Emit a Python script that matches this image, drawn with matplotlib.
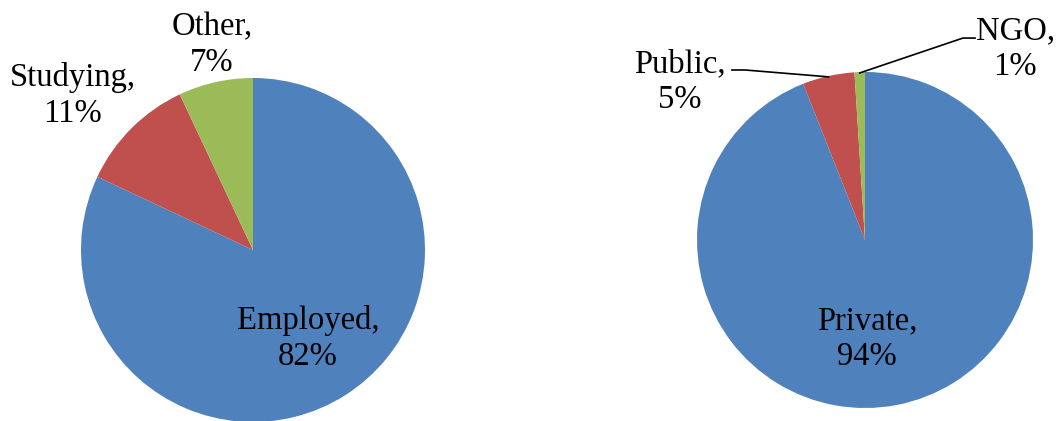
import numpy as np
import matplotlib.pyplot as plt

plt.rcParams['font.family'] = ['Liberation Serif', 'DejaVu Serif']

status = ['Employed', 'Studying', 'Other']
status_pct = [82, 11, 7]
sector = ['Private', 'Public', 'NGO']
sector_pct = [94, 5, 1]

colors = ['#4F81BD', '#C0504D', '#9BBB59']

W, H = 1057, 421
fig = plt.figure(figsize=(W / 100, H / 100), dpi=100)


def make_ax(cx, cy, r):
    # pixel centre / radius -> figure fraction
    return fig.add_axes([(cx - r) / W, (H - cy - r) / H, 2 * r / W, 2 * r / H])


def finish(ax):
    ax.set_xlim(-1, 1)
    ax.set_ylim(-1, 1)
    ax.axis('off')


def mid_point(w, r=1.0):
    a = np.deg2rad((w.theta1 + w.theta2) / 2)
    return r * np.cos(a), r * np.sin(a)


fs = 23.5
ls = 1.22

# left pie
ax1 = make_ax(253, 250, 172)
wedges1, _ = ax1.pie(status_pct, colors=colors, startangle=90, counterclock=False,
                     radius=1, wedgeprops=dict(linewidth=0))
finish(ax1)
lab_pos1 = [(0.32, -0.516), (-1.05, 0.90), (-0.24, 1.19)]
for name, v, (x, y) in zip(status, status_pct, lab_pos1):
    ax1.text(x, y, f'{name},\n{v}%', ha='center', va='center', fontsize=fs,
             linespacing=ls, clip_on=False)

# right pie
ax2 = make_ax(865, 240, 168)
wedges2, _ = ax2.pie(sector_pct, colors=colors, startangle=90, counterclock=False,
                     radius=1, wedgeprops=dict(linewidth=0))
finish(ax2)
lab_pos2 = [(0.012, -0.587), (-1.10, 0.942), (0.893, 1.136)]
for name, v, (x, y) in zip(sector, sector_pct, lab_pos2):
    ax2.text(x, y, f'{name},\n{v}%', ha='center', va='center', fontsize=fs,
             linespacing=ls, clip_on=False)

# leader lines for the small slices
leaders = {1: [(-0.792, 1.012), (-0.714, 1.012)],
           2: [(0.655, 1.202), (0.583, 1.202)]}
for i, pts in leaders.items():
    px, py = mid_point(wedges2[i], 0.995)
    xs = [p[0] for p in pts] + [px]
    ys = [p[1] for p in pts] + [py]
    ax2.plot(xs, ys, color='black', lw=1.2, clip_on=False)

fig.savefig('out.png', dpi=100)
